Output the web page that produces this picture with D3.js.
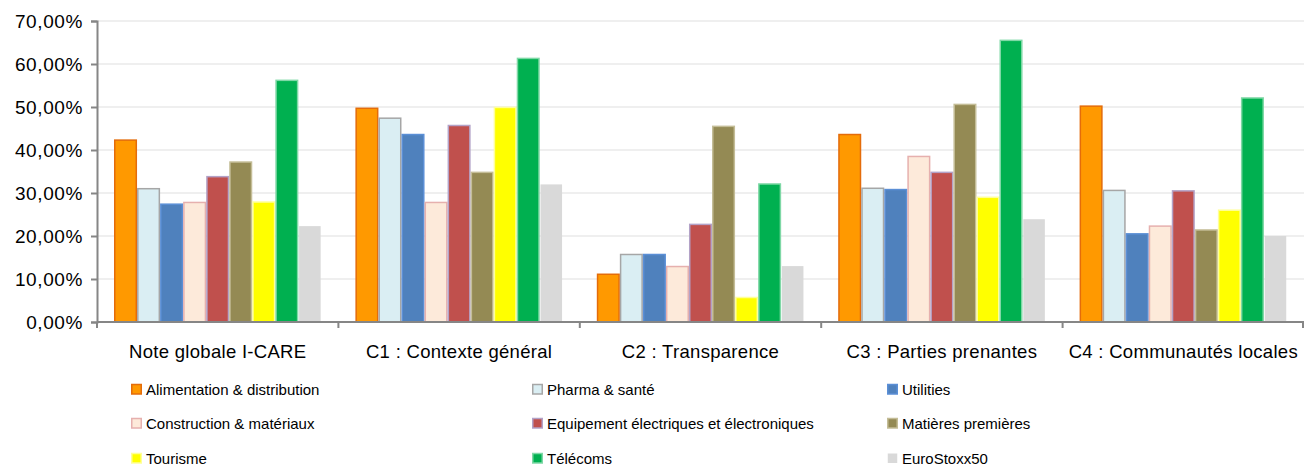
<!DOCTYPE html>
<html>
<head>
<meta charset="utf-8">
<script src="https://cdn.jsdelivr.net/npm/d3@7"></script>
<style>
  body { margin: 0; background: #fff; }
  svg { display: block; font-family: "Liberation Sans", Arial, sans-serif; }
</style>
</head>
<body>
<div id="chart"></div>
<script>
// catégories et séries
const categories = ['Note globale I-CARE', 'C1 : Contexte général', 'C2 : Transparence', 'C3 : Parties prenantes', 'C4 : Communautés locales'];
const series = ['Alimentation & distribution', 'Pharma & santé', 'Utilities', 'Construction & matériaux',
  'Equipement électriques et électroniques', 'Matières premières', 'Tourisme', 'Télécoms', 'EuroStoxx50'];

// valeurs en % par série (une valeur par catégorie)
const alimentation = [42.3, 49.7, 11.1, 43.6, 50.2];
const pharma = [31.0, 47.4, 15.7, 31.1, 30.6];
const utilities = [27.4, 43.6, 15.7, 30.8, 20.5];
const construction = [27.8, 27.8, 12.9, 38.5, 22.3];
const equipement = [33.8, 45.7, 22.7, 34.8, 30.5];
const matieres = [37.2, 34.8, 45.5, 50.6, 21.4];
const tourisme = [27.9, 49.9, 5.7, 29.0, 26.0];
const telecoms = [56.2, 61.3, 32.1, 65.5, 52.1];
const eurostoxx = [22.3, 32.0, 13.0, 23.9, 20.0];
const values = [alimentation, pharma, utilities, construction, equipement, matieres, tourisme, telecoms, eurostoxx];

const yTicks = [0, 10, 20, 30, 40, 50, 60, 70];

const fills = ['#FF9900', '#DAEEF3', '#4F81BD', '#FDEADA', '#C0504D', '#948A54', '#FFFF00', '#00B050', '#D9D9D9'];
const strokes = ['#E46C0A', '#A6A6A6', '#5B8FD6', '#E6B0AE', '#B3A2C7', '#C4BD97', '#FFFF99', '#7FD8A6', 'none'];

const width = 1304, height = 467;
const margin = { left: 97, right: 0, top: 21, bottom: 145 };

const svg = d3.select('#chart').append('svg')
  .attr('width', width)
  .attr('height', height);

const y = d3.scaleLinear().domain([0, 70]).range([322, 21]);
const x0 = d3.scaleBand().domain(categories).range([97, 1304]);
const x1 = d3.scaleBand().domain(series).range([17, x0.bandwidth() - 17]);

// grille horizontale
svg.append('g')
  .selectAll('line')
  .data(yTicks.filter(t => t > 0))
  .enter()
  .append('line')
  .attr('x1', 97).attr('x2', 1304)
  .attr('y1', d => y(d)).attr('y2', d => y(d))
  .attr('stroke', '#EFEFEF')
  .attr('stroke-width', 2);

// barres
const groups = svg.append('g')
  .selectAll('g')
  .data(categories)
  .enter()
  .append('g')
  .attr('transform', d => `translate(${x0(d)},0)`);

groups.selectAll('rect')
  .data((c, ci) => series.map((s, si) => ({ s, si, v: values[si][ci] })))
  .enter()
  .append('rect')
  .attr('x', d => x1(d.s) + 0.75)
  .attr('width', x1.bandwidth() - 1.5)
  .attr('y', d => y(d.v))
  .attr('height', d => y(0) - y(d.v))
  .attr('fill', d => fills[d.si])
  .attr('stroke', d => strokes[d.si])
  .attr('stroke-width', 1.5);

// axe Y
const yAxis = d3.axisLeft(y)
  .tickValues(yTicks)
  .tickSize(6)
  .tickPadding(8)
  .tickFormat(d => d3.format('.2f')(d).replace('.', ',') + '%');

const gy = svg.append('g')
  .attr('transform', 'translate(97,0)')
  .call(yAxis);
gy.select('.domain').attr('stroke', '#868686').attr('stroke-width', 2);
gy.selectAll('.tick line').attr('stroke', '#868686').attr('stroke-width', 2);
gy.selectAll('.tick text')
  .attr('fill', '#000')
  .style('font-size', '19px')
  .style('letter-spacing', '0.6px');

// axe X
const gx = svg.append('g')
  .attr('transform', 'translate(0,322)');
gx.append('line')
  .attr('x1', 97).attr('x2', 1304)
  .attr('stroke', '#868686').attr('stroke-width', 2);
gx.selectAll('line.tk')
  .data(categories.map(c => x0(c)).concat([1303]))
  .enter()
  .append('line')
  .attr('class', 'tk')
  .attr('x1', d => d).attr('x2', d => d)
  .attr('y1', 0).attr('y2', 6)
  .attr('stroke', '#868686').attr('stroke-width', 2);
gx.selectAll('text')
  .data(categories)
  .enter()
  .append('text')
  .attr('x', d => x0(d) + x0.bandwidth() / 2)
  .attr('y', 36)
  .attr('text-anchor', 'middle')
  .style('font-size', '18.5px')
  .style('letter-spacing', '0.3px')
  .text(d => d);

// légende
const legendCols = [131, 532, 887];
const legendRows = [389, 423, 458];
const legend = svg.append('g')
  .selectAll('g')
  .data(series)
  .enter()
  .append('g')
  .attr('transform', (d, i) => `translate(${legendCols[i % 3]},${legendRows[Math.floor(i / 3)]})`);

legend.append('rect')
  .attr('x', 0.75).attr('y', -4.5)
  .attr('width', 9.5).attr('height', 9.5)
  .attr('fill', (d, i) => fills[i])
  .attr('stroke', (d, i) => strokes[i])
  .attr('stroke-width', 1.5);

legend.append('text')
  .attr('x', 15)
  .attr('y', 5.5)
  .style('font-size', '15px')
  .text(d => d);
</script>
</body>
</html>
